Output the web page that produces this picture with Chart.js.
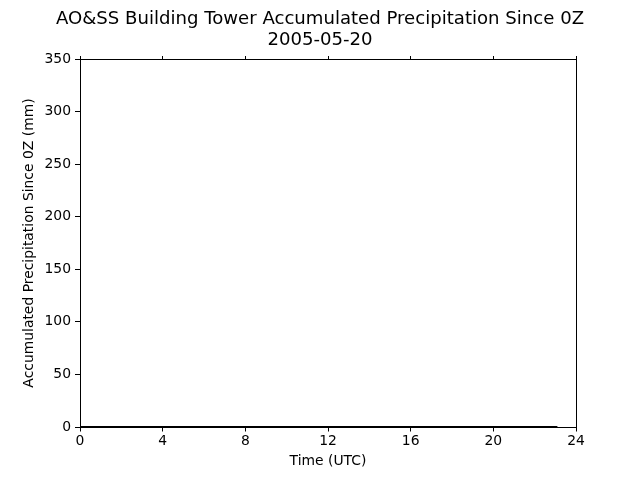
<!DOCTYPE html>
<html>
<head>
<meta charset="utf-8">
<script src="https://cdn.jsdelivr.net/npm/chart.js@4"></script>
<style>
html,body{margin:0;padding:0;background:#fff;}
#wrap{width:640px;height:480px;position:relative;}
</style>
</head>
<body>
<div id="wrap"><canvas id="c" width="640" height="480"></canvas></div>
<script>
// ---- data ----
const titleLines = ["AO&SS Building Tower Accumulated Precipitation Since 0Z", "2005-05-20"];
const xLabel = "Time (UTC)";
const yLabel = "Accumulated Precipitation Since 0Z (mm)";
const timeHours = [0, 1, 2, 3, 4, 5, 6, 7, 8, 9, 10, 11, 12, 13, 14, 15, 16, 17, 18, 19, 20, 21, 22, 23, 23.1];
const precipMm  = [0, 0, 0, 0, 0, 0, 0, 0, 0, 0, 0, 0, 0, 0, 0, 0, 0, 0, 0, 0, 0, 0, 0, 0, 0];
const xTicks = [0, 4, 8, 12, 16, 20, 24];
const yTicks = [0, 50, 100, 150, 200, 250, 300, 350];

const FONT = "'DejaVu Sans', sans-serif";
const points = timeHours.map((t, i) => ({x: t, y: precipMm[i]}));

const titlePlugin = {
  id: 'figTitle',
  afterDraw(chart) {
    const ctx = chart.ctx;
    ctx.save();
    ctx.fillStyle = '#000';
    ctx.font = "18.1px " + FONT;
    ctx.textAlign = 'center';
    ctx.textBaseline = 'alphabetic';
    ctx.fillText(titleLines[0], 320, 24);
    ctx.fillText(titleLines[1], 320, 44.5);
    ctx.restore();
  }
};

new Chart(document.getElementById('c'), {
  type: 'line',
  data: {
    datasets: [{
      data: points,
      borderColor: '#000',
      borderWidth: 1.8,
      pointRadius: 0,
      fill: false,
      tension: 0,
      xAxisID: 'x',
      yAxisID: 'y'
    }]
  },
  options: {
    responsive: false,
    animation: false,
    devicePixelRatio: 1,
    layout: { padding: { top: 59, right: 64, left: 0, bottom: 0 } },
    plugins: { legend: { display: false }, tooltip: { enabled: false }, title: { display: false } },
    scales: {
      x: {
        type: 'linear', position: 'bottom', min: 0, max: 24,
        afterBuildTicks: s => { s.ticks = xTicks.map(v => ({value: v})); },
        afterFit: s => { s.height = 53; },
        ticks: { color: '#000', font: { family: FONT, size: 13.9 }, padding: 1.5, maxRotation: 0 },
        grid: { display: true, drawOnChartArea: false, drawTicks: true, tickLength: 4.5, color: '#000', lineWidth: 1 },
        border: { display: true, color: '#000', width: 1 },
        title: { display: true, text: xLabel, color: '#000', font: { family: FONT, size: 13.9 }, padding: { top: 0, bottom: 10.5 } }
      },
      x2: {
        type: 'linear', position: 'top', min: 0, max: 24,
        afterBuildTicks: s => { s.ticks = xTicks.map(v => ({value: v})); },
        afterFit: s => { s.height = 0; },
        ticks: { display: false },
        grid: { display: true, drawOnChartArea: false, drawTicks: true, tickLength: 3, color: '#000', lineWidth: 1 },
        border: { display: true, color: '#000', width: 1 }
      },
      y: {
        type: 'linear', position: 'left', min: 0, max: 350,
        afterBuildTicks: s => { s.ticks = yTicks.map(v => ({value: v})); },
        afterFit: s => { s.width = 80; },
        ticks: { color: '#000', font: { family: FONT, size: 13.9 }, padding: 4 },
        grid: { display: true, drawOnChartArea: false, drawTicks: true, tickLength: 5, color: '#000', lineWidth: 1 },
        border: { display: true, color: '#000', width: 1 },
        title: { display: true, text: yLabel, color: '#000', font: { family: FONT, size: 13.9 }, padding: { top: 21.5, bottom: 0 } }
      },
      y2: {
        type: 'linear', position: 'right', min: 0, max: 350,
        afterFit: s => { s.width = 0; },
        ticks: { display: false },
        grid: { display: false, drawOnChartArea: false, drawTicks: false },
        border: { display: true, color: '#000', width: 1 }
      }
    }
  },
  plugins: [titlePlugin]
});
</script>
</body>
</html>
